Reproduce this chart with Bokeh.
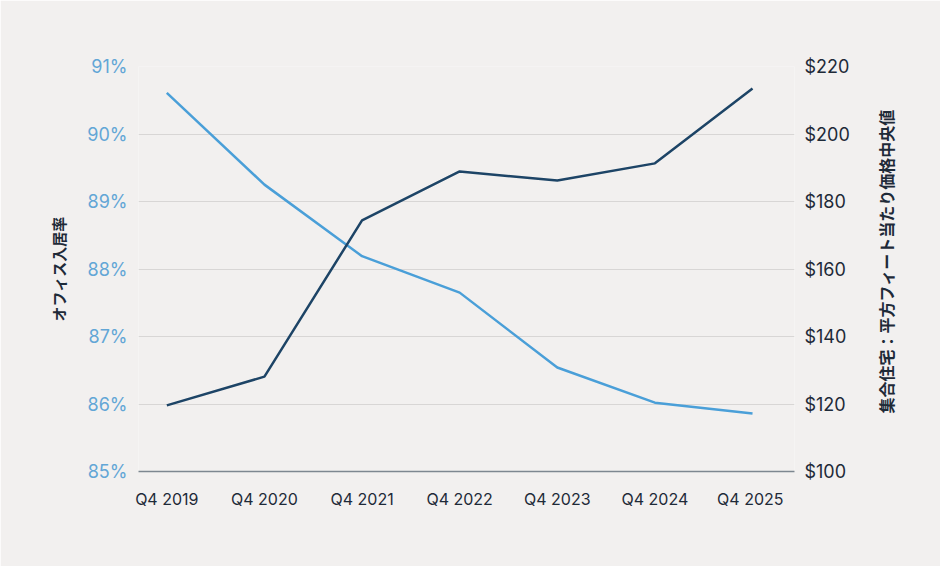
import math
from bokeh.plotting import figure
from bokeh.models import Range1d, LinearAxis, FixedTicker, ColumnDataSource
from bokeh.embed import file_html
from bokeh.resources import INLINE

quarters = ["Q4 2019", "Q4 2020", "Q4 2021", "Q4 2022", "Q4 2023", "Q4 2024", "Q4  2025"]
occupancy = [90.61, 89.25, 88.19, 87.65, 86.54, 86.02, 85.86]
price = [119.6, 128.1, 174.4, 188.9, 186.2, 191.3, 213.5]

left_ticks = [85, 86, 87, 88, 89, 90, 91]
right_ticks = [100, 120, 140, 160, 180, 200, 220]
right_title_text = "集合住宅：平方フィート当たり価格中央値"

BG = "#f2f0ef"
LIGHT = "#4a9fd8"
DARK = "#1d4466"
TEXT = "#1e2a38"
FONT = "Inter"

idx = list(range(len(quarters)))
src = ColumnDataSource(dict(x=idx, occ=occupancy, price=price))

p = figure(width=940, height=566, output_backend="svg", toolbar_location=None,
           x_range=Range1d(-0.29, 6.43), y_range=Range1d(85, 91),
           min_border_left=138, min_border_right=146, min_border_top=66, min_border_bottom=95)
p.extra_y_ranges = {"price": Range1d(100, 220)}
p.background_fill_color = BG
p.border_fill_color = BG
p.outline_line_color = None

p.xgrid.grid_line_color = None
p.ygrid.grid_line_color = "#d8d6d5"
p.ygrid.grid_line_width = 1
p.ygrid.ticker = FixedTicker(ticks=left_ticks[1:])

# bottom axis
p.xaxis.ticker = FixedTicker(ticks=idx)
p.xaxis.major_label_overrides = {i: q for i, q in enumerate(quarters)}
p.xaxis.axis_line_color = "#7d8790"
p.xaxis.axis_line_width = 1.5
p.xaxis.major_tick_line_color = None
p.xaxis.minor_tick_line_color = None
p.xaxis.major_tick_out = 0
p.xaxis.major_label_text_font = FONT
p.xaxis.major_label_text_font_size = "16px"
p.xaxis.major_label_text_color = TEXT
p.xaxis.major_label_standoff = 17

# left axis
la = p.yaxis[0]
la.ticker = FixedTicker(ticks=left_ticks)
la.major_label_overrides = {t: f"{t}%" for t in left_ticks}
la.axis_line_color = None
la.major_tick_line_color = None
la.minor_tick_line_color = None
la.major_tick_out = 0
la.major_label_text_font = FONT
la.major_label_text_font_size = "18px"
la.major_label_text_color = "#62a6d6"
la.major_label_standoff = 11
la.axis_label = "オフィス入居率"
la.axis_label_text_font = "Noto Sans CJK JP"
la.axis_label_text_font_style = "bold"
la.axis_label_text_font_size = "15px"
la.axis_label_text_color = TEXT
la.axis_label_standoff = 15

# right axis (values)
ra = LinearAxis(y_range_name="price")
ra.ticker = FixedTicker(ticks=right_ticks)
ra.major_label_overrides = {t: f"${t}" for t in right_ticks}
ra.axis_line_color = None
ra.major_tick_line_color = None
ra.minor_tick_line_color = None
ra.major_tick_out = 0
ra.major_label_text_font = FONT
ra.major_label_text_font_size = "18px"
ra.major_label_text_color = TEXT
ra.major_label_standoff = 10
p.add_layout(ra, "right")

# right axis title, reading bottom-to-top (label starts at this position)
TITLE_POS = 117.2
rt = LinearAxis(y_range_name="price")
rt.ticker = FixedTicker(ticks=[TITLE_POS])
rt.major_label_overrides = {TITLE_POS: right_title_text}
rt.major_label_orientation = math.pi / 2
rt.axis_line_color = None
rt.major_tick_line_color = None
rt.minor_tick_line_color = None
rt.major_tick_out = 0
rt.major_tick_in = 0
rt.major_label_text_font = "Noto Sans CJK JP"
rt.major_label_text_font_style = "bold"
rt.major_label_text_font_size = "16px"
rt.major_label_text_color = TEXT
rt.major_label_standoff = 34
p.add_layout(rt, "right")

p.line("x", "occ", source=src, line_color=LIGHT, line_width=2.5)
p.line("x", "price", source=src, y_range_name="price", line_color=DARK, line_width=2.5)

open("out.html", "w").write(file_html(p, INLINE))
